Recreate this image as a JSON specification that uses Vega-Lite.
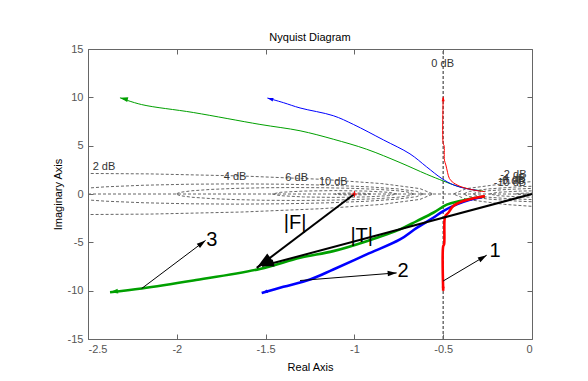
{
"$schema": "https://vega.github.io/schema/vega-lite/v6.json",
"width": 444, "height": 290,
"autosize": {"type": "none"},
"padding": {"left": 88, "top": 49, "right": 56, "bottom": 42},
"title": {"text": "Nyquist Diagram", "fontSize": 11, "fontWeight": "normal", "font": "Liberation Sans", "color": "black", "offset": 0},
"config": {
 "view": {"stroke": null},
 "font": "Liberation Sans",
 "axis": {"domainColor": "#666666", "tickColor": "#666666", "tickSize": -5, "labelColor": "#555555", "labelFontSize": 11, "labelFont": "Liberation Sans", "titleFont": "Liberation Sans", "titleFontSize": 11, "titleFontWeight": "normal", "titleColor": "black", "grid": false, "labelPadding": 9}
},
"resolve": {"axis": {"x": "independent", "y": "independent"}},
"datasets": {
 "grid": [
  {"c":"m2","i":0,"x":-2.7097,"y":2.1524},{"c":"m2","i":1,"x":-2.1526,"y":2.079},{"c":"m2","i":2,"x":-1.6335,"y":1.864},{"c":"m2","i":3,"x":-1.1877,"y":1.522},{"c":"m2","i":4,"x":-0.8457,"y":1.0762},{"c":"m2","i":5,"x":-0.6307,"y":0.5571},{"c":"m2","i":6,"x":-0.5573,"y":0},{"c":"m2","i":7,"x":-0.6307,"y":-0.5571},{"c":"m2","i":8,"x":-0.8457,"y":-1.0762},{"c":"m2","i":9,"x":-1.1877,"y":-1.522},{"c":"m2","i":10,"x":-1.6335,"y":-1.864},{"c":"m2","i":11,"x":-2.1526,"y":-2.079},{"c":"m2","i":12,"x":-2.7097,"y":-2.1524},
  {"c":"n2","i":0,"x":0.1877,"y":1.522},{"c":"n2","i":1,"x":-0.1543,"y":1.0762},{"c":"n2","i":2,"x":-0.3693,"y":0.5571},{"c":"n2","i":3,"x":-0.4427,"y":0},{"c":"n2","i":4,"x":-0.3693,"y":-0.5571},{"c":"n2","i":5,"x":-0.1543,"y":-1.0762},{"c":"n2","i":6,"x":0.1877,"y":-1.522},
  {"c":"m4","i":0,"x":-0.6131,"y":0},{"c":"m4","i":1,"x":-0.6488,"y":0.2713},{"c":"m4","i":2,"x":-0.7536,"y":0.5242},{"c":"m4","i":3,"x":-0.9201,"y":0.7413},{"c":"m4","i":4,"x":-1.1372,"y":0.9078},{"c":"m4","i":5,"x":-1.3901,"y":1.0126},{"c":"m4","i":6,"x":-1.6614,"y":1.0483},{"c":"m4","i":7,"x":-1.9327,"y":1.0126},{"c":"m4","i":8,"x":-2.1856,"y":0.9078},{"c":"m4","i":9,"x":-2.4027,"y":0.7413},{"c":"m4","i":10,"x":-2.5692,"y":0.5242},{"c":"m4","i":11,"x":-2.674,"y":0.2713},{"c":"m4","i":12,"x":-2.7097,"y":0},{"c":"m4","i":13,"x":-2.674,"y":-0.2713},{"c":"m4","i":14,"x":-2.5692,"y":-0.5242},{"c":"m4","i":15,"x":-2.4027,"y":-0.7413},{"c":"m4","i":16,"x":-2.1856,"y":-0.9078},{"c":"m4","i":17,"x":-1.9327,"y":-1.0126},{"c":"m4","i":18,"x":-1.6614,"y":-1.0483},{"c":"m4","i":19,"x":-1.3901,"y":-1.0126},{"c":"m4","i":20,"x":-1.1372,"y":-0.9078},{"c":"m4","i":21,"x":-0.9201,"y":-0.7413},{"c":"m4","i":22,"x":-0.7536,"y":-0.5242},{"c":"m4","i":23,"x":-0.6488,"y":-0.2713},{"c":"m4","i":24,"x":-0.6131,"y":0},
  {"c":"n4","i":0,"x":0.1372,"y":0.9078},{"c":"n4","i":1,"x":-0.0799,"y":0.7413},{"c":"n4","i":2,"x":-0.2464,"y":0.5242},{"c":"n4","i":3,"x":-0.3512,"y":0.2713},{"c":"n4","i":4,"x":-0.3869,"y":0},{"c":"n4","i":5,"x":-0.3512,"y":-0.2713},{"c":"n4","i":6,"x":-0.2464,"y":-0.5242},{"c":"n4","i":7,"x":-0.0799,"y":-0.7413},{"c":"n4","i":8,"x":0.1372,"y":-0.9078},
  {"c":"m6","i":0,"x":-0.6661,"y":0},{"c":"m6","i":1,"x":-0.6889,"y":0.1732},{"c":"m6","i":2,"x":-0.7558,"y":0.3347},{"c":"m6","i":3,"x":-0.8621,"y":0.4733},{"c":"m6","i":4,"x":-1.0007,"y":0.5796},{"c":"m6","i":5,"x":-1.1622,"y":0.6465},{"c":"m6","i":6,"x":-1.3354,"y":0.6693},{"c":"m6","i":7,"x":-1.5086,"y":0.6465},{"c":"m6","i":8,"x":-1.6701,"y":0.5796},{"c":"m6","i":9,"x":-1.8087,"y":0.4733},{"c":"m6","i":10,"x":-1.915,"y":0.3347},{"c":"m6","i":11,"x":-1.9819,"y":0.1732},{"c":"m6","i":12,"x":-2.0047,"y":0},{"c":"m6","i":13,"x":-1.9819,"y":-0.1732},{"c":"m6","i":14,"x":-1.915,"y":-0.3347},{"c":"m6","i":15,"x":-1.8087,"y":-0.4733},{"c":"m6","i":16,"x":-1.6701,"y":-0.5796},{"c":"m6","i":17,"x":-1.5086,"y":-0.6465},{"c":"m6","i":18,"x":-1.3354,"y":-0.6693},{"c":"m6","i":19,"x":-1.1622,"y":-0.6465},{"c":"m6","i":20,"x":-1.0007,"y":-0.5796},{"c":"m6","i":21,"x":-0.8621,"y":-0.4733},{"c":"m6","i":22,"x":-0.7558,"y":-0.3347},{"c":"m6","i":23,"x":-0.6889,"y":-0.1732},{"c":"m6","i":24,"x":-0.6661,"y":0},
  {"c":"n6","i":0,"x":0.1622,"y":0.6465},{"c":"n6","i":1,"x":-0.0007,"y":0.5796},{"c":"n6","i":2,"x":-0.1379,"y":0.4733},{"c":"n6","i":3,"x":-0.2442,"y":0.3347},{"c":"n6","i":4,"x":-0.3111,"y":0.1732},{"c":"n6","i":5,"x":-0.3339,"y":0},{"c":"n6","i":6,"x":-0.3111,"y":-0.1732},{"c":"n6","i":7,"x":-0.2442,"y":-0.3347},{"c":"n6","i":8,"x":-0.1379,"y":-0.4733},{"c":"n6","i":9,"x":-0.0007,"y":-0.5796},{"c":"n6","i":10,"x":0.1622,"y":-0.6465},
  {"c":"m10","i":0,"x":-0.7597,"y":0},{"c":"m10","i":1,"x":-0.8068,"y":0.1757},{"c":"m10","i":2,"x":-0.9354,"y":0.3043},{"c":"m10","i":3,"x":-1.1111,"y":0.3514},{"c":"m10","i":4,"x":-1.2868,"y":0.3043},{"c":"m10","i":5,"x":-1.4154,"y":0.1757},{"c":"m10","i":6,"x":-1.4625,"y":0},{"c":"m10","i":7,"x":-1.4154,"y":-0.1757},{"c":"m10","i":8,"x":-1.2868,"y":-0.3043},{"c":"m10","i":9,"x":-1.1111,"y":-0.3514},{"c":"m10","i":10,"x":-0.9354,"y":-0.3043},{"c":"m10","i":11,"x":-0.8068,"y":-0.1757},{"c":"m10","i":12,"x":-0.7597,"y":0},
  {"c":"n10","i":0,"x":0.1111,"y":0.3514},{"c":"n10","i":1,"x":-0.0646,"y":0.3043},{"c":"n10","i":2,"x":-0.1932,"y":0.1757},{"c":"n10","i":3,"x":-0.2403,"y":0},{"c":"n10","i":4,"x":-0.1932,"y":-0.1757},{"c":"n10","i":5,"x":-0.0646,"y":-0.3043},{"c":"n10","i":6,"x":0.1111,"y":-0.3514},
  {"c":"m20","i":0,"x":-0.9091,"y":0},{"c":"m20","i":1,"x":-0.9226,"y":0.0505},{"c":"m20","i":2,"x":-0.9596,"y":0.0875},{"c":"m20","i":3,"x":-1.0101,"y":0.101},{"c":"m20","i":4,"x":-1.0606,"y":0.0875},{"c":"m20","i":5,"x":-1.0976,"y":0.0505},{"c":"m20","i":6,"x":-1.1111,"y":0},{"c":"m20","i":7,"x":-1.0976,"y":-0.0505},{"c":"m20","i":8,"x":-1.0606,"y":-0.0875},{"c":"m20","i":9,"x":-1.0101,"y":-0.101},{"c":"m20","i":10,"x":-0.9596,"y":-0.0875},{"c":"m20","i":11,"x":-0.9226,"y":-0.0505},{"c":"m20","i":12,"x":-0.9091,"y":0},
  {"c":"n20","i":0,"x":0.0101,"y":0.101},{"c":"n20","i":1,"x":-0.0404,"y":0.0875},{"c":"n20","i":2,"x":-0.0774,"y":0.0505},{"c":"n20","i":3,"x":-0.0909,"y":0},{"c":"n20","i":4,"x":-0.0774,"y":-0.0505},{"c":"n20","i":5,"x":-0.0404,"y":-0.0875},{"c":"n20","i":6,"x":0.0101,"y":-0.101},
  {"c":"zero","i":0,"x":-0.5,"y":-15},{"c":"zero","i":1,"x":-0.5,"y":15},
  {"c":"re","i":0,"x":-2.5,"y":0},{"c":"re","i":1,"x":0,"y":0}
 ],
 "curves": [
  {"curve":"3","branch":"neg","i":0,"x":-2.32,"y":9.95},{"curve":"3","branch":"neg","i":1,"x":-2.198,"y":9.25},{"curve":"3","branch":"neg","i":2,"x":-1.907,"y":8.43},{"curve":"3","branch":"neg","i":3,"x":-1.532,"y":7.2},{"curve":"3","branch":"neg","i":4,"x":-1.306,"y":6.54},{"curve":"3","branch":"neg","i":5,"x":-1.119,"y":5.67},{"curve":"3","branch":"neg","i":6,"x":-0.931,"y":4.63},{"curve":"3","branch":"neg","i":7,"x":-0.743,"y":3.25},{"curve":"3","branch":"neg","i":8,"x":-0.593,"y":2.04},{"curve":"3","branch":"neg","i":9,"x":-0.5,"y":1.35},{"curve":"3","branch":"neg","i":10,"x":-0.424,"y":0.83},{"curve":"3","branch":"neg","i":11,"x":-0.35,"y":0.5},{"curve":"3","branch":"neg","i":12,"x":-0.276,"y":0.31},
  {"curve":"3","branch":"pos","i":0,"x":-2.376,"y":-10.17},{"curve":"3","branch":"pos","i":1,"x":-2.198,"y":-9.78},{"curve":"3","branch":"pos","i":2,"x":-1.907,"y":-8.95},{"curve":"3","branch":"pos","i":3,"x":-1.532,"y":-7.75},{"curve":"3","branch":"pos","i":4,"x":-1.306,"y":-6.6},{"curve":"3","branch":"pos","i":5,"x":-1.119,"y":-5.91},{"curve":"3","branch":"pos","i":6,"x":-0.931,"y":-4.88},{"curve":"3","branch":"pos","i":7,"x":-0.743,"y":-3.66},{"curve":"3","branch":"pos","i":8,"x":-0.649,"y":-2.8},{"curve":"3","branch":"pos","i":9,"x":-0.556,"y":-1.94},{"curve":"3","branch":"pos","i":10,"x":-0.48,"y":-1.1},{"curve":"3","branch":"pos","i":11,"x":-0.405,"y":-0.73},{"curve":"3","branch":"pos","i":12,"x":-0.33,"y":-0.45},{"curve":"3","branch":"pos","i":13,"x":-0.265,"y":-0.25},
  {"curve":"2","branch":"neg","i":0,"x":-1.49,"y":9.93},{"curve":"2","branch":"neg","i":1,"x":-1.4,"y":9.45},{"curve":"2","branch":"neg","i":2,"x":-1.306,"y":8.9},{"curve":"2","branch":"neg","i":3,"x":-1.119,"y":8.1},{"curve":"2","branch":"neg","i":4,"x":-1.006,"y":7.2},{"curve":"2","branch":"neg","i":5,"x":-0.837,"y":5.6},{"curve":"2","branch":"neg","i":6,"x":-0.687,"y":4.15},{"curve":"2","branch":"neg","i":7,"x":-0.593,"y":2.8},{"curve":"2","branch":"neg","i":8,"x":-0.508,"y":1.6},{"curve":"2","branch":"neg","i":9,"x":-0.443,"y":0.95},{"curve":"2","branch":"neg","i":10,"x":-0.38,"y":0.6},{"curve":"2","branch":"neg","i":11,"x":-0.3,"y":0.35},
  {"curve":"2","branch":"pos","i":0,"x":-1.522,"y":-10.24},{"curve":"2","branch":"pos","i":1,"x":-1.4,"y":-9.6},{"curve":"2","branch":"pos","i":2,"x":-1.25,"y":-8.85},{"curve":"2","branch":"pos","i":3,"x":-1.119,"y":-7.81},{"curve":"2","branch":"pos","i":4,"x":-0.931,"y":-6.25},{"curve":"2","branch":"pos","i":5,"x":-0.743,"y":-4.7},{"curve":"2","branch":"pos","i":6,"x":-0.649,"y":-3.5},{"curve":"2","branch":"pos","i":7,"x":-0.556,"y":-2.46},{"curve":"2","branch":"pos","i":8,"x":-0.5,"y":-1.76},{"curve":"2","branch":"pos","i":9,"x":-0.424,"y":-1.07},{"curve":"2","branch":"pos","i":10,"x":-0.35,"y":-0.6},{"curve":"2","branch":"pos","i":11,"x":-0.28,"y":-0.3},
  {"curve":"1","branch":"neg","i":0,"x":-0.5,"y":10},{"curve":"1","branch":"neg","i":1,"x":-0.5,"y":5.2},{"curve":"1","branch":"neg","i":2,"x":-0.495,"y":5.0},{"curve":"1","branch":"neg","i":3,"x":-0.493,"y":3.5},{"curve":"1","branch":"neg","i":4,"x":-0.485,"y":3.0},{"curve":"1","branch":"neg","i":5,"x":-0.475,"y":2.2},{"curve":"1","branch":"neg","i":6,"x":-0.465,"y":1.6},{"curve":"1","branch":"neg","i":7,"x":-0.443,"y":1.17},{"curve":"1","branch":"neg","i":8,"x":-0.396,"y":0.73},{"curve":"1","branch":"neg","i":9,"x":-0.32,"y":0.38},{"curve":"1","branch":"neg","i":10,"x":-0.265,"y":0.24},
  {"curve":"1","branch":"pos","i":0,"x":-0.5,"y":-10},{"curve":"1","branch":"pos","i":1,"x":-0.5,"y":-5.4},{"curve":"1","branch":"pos","i":2,"x":-0.495,"y":-5.2},{"curve":"1","branch":"pos","i":3,"x":-0.492,"y":-2.6},{"curve":"1","branch":"pos","i":4,"x":-0.485,"y":-2.2},{"curve":"1","branch":"pos","i":5,"x":-0.471,"y":-1.94},{"curve":"1","branch":"pos","i":6,"x":-0.443,"y":-1.24},{"curve":"1","branch":"pos","i":7,"x":-0.387,"y":-0.73},{"curve":"1","branch":"pos","i":8,"x":-0.33,"y":-0.45},{"curve":"1","branch":"pos","i":9,"x":-0.265,"y":-0.22}
 ],
 "ann": [
  {"a":"T","i":0,"x":0,"y":0},{"a":"T","i":1,"x":-1.52,"y":-7.45},
  {"a":"F","i":0,"x":-1,"y":0},{"a":"F","i":1,"x":-1.55,"y":-7.64},
  {"a":"a3","i":0,"x":-2.198,"y":-9.78},{"a":"a3","i":1,"x":-1.838,"y":-4.8},
  {"a":"a2","i":0,"x":-1.306,"y":-8.95},{"a":"a2","i":1,"x":-0.762,"y":-8.16},
  {"a":"a1","i":0,"x":-0.5,"y":-9.0},{"a":"a1","i":1,"x":-0.255,"y":-6.33}
 ],
 "heads": [
  {"h":"F","x":-1.55,"y":-7.64},{"h":"T","x":-1.52,"y":-7.45},{"h":"a3","x":-1.838,"y":-4.8},{"h":"a2","x":-0.762,"y":-8.16},{"h":"a1","x":-0.255,"y":-6.33},
  {"h":"g_up","x":-2.32,"y":9.95},{"h":"b_up","x":-1.49,"y":9.93},{"h":"r_up","x":-0.5,"y":10.1},
  {"h":"g_lo","x":-2.376,"y":-10.17},{"h":"b_lo","x":-1.522,"y":-10.24},{"h":"r_lo","x":-0.5,"y":-10.1},
  {"h":"m1","x":-1,"y":0}
 ],
 "labels": [
  {"t":"1","x":-0.208,"y":-5.91},{"t":"2","x":-0.726,"y":-7.99},{"t":"3","x":-1.803,"y":-4.77},{"t":"|F|","x":-1.334,"y":-3.0},{"t":"|T|","x":-0.959,"y":-4.36}
 ],
 "gridlabels": [
  {"t":"0 dB","x":-0.503,"y":13.45},{"t":"2 dB","x":-2.41,"y":2.8},{"t":"4 dB","x":-1.672,"y":1.76},{"t":"6 dB","x":-1.325,"y":1.63},{"t":"10 dB","x":-1.119,"y":1.2},
  {"t":"-2 dB","x":-0.105,"y":1.94},{"t":"-4 dB","x":-0.11,"y":1.6},{"t":"-6 dB","x":-0.115,"y":1.35},{"t":"-10 dB","x":-0.124,"y":1.11}
 ]
},
"layer": [
 {"data": {"name": "grid"},
  "mark": {"type": "line", "clip": true, "color": "#666666", "strokeWidth": 1, "strokeDash": [3, 2]},
  "encoding": {
   "x": {"field": "x", "type": "quantitative", "scale": {"domain": [-2.5, 0], "nice": false, "zero": false},
         "axis": {"orient": "bottom", "values": [-2.5, -2, -1.5, -1, -0.5, 0], "labelExpr": "'' + datum.value", "title": "Real Axis", "titlePadding": 7}},
   "y": {"field": "y", "type": "quantitative", "scale": {"domain": [-15, 15], "nice": false, "zero": false},
         "axis": {"orient": "left", "values": [-15, -10, -5, 0, 5, 10, 15], "labelExpr": "'' + datum.value", "title": "Imaginary Axis", "titlePadding": 4, "labelPadding": 10}},
   "detail": {"field": "c"},
   "order": {"field": "i", "type": "quantitative"}
  }},
 {"data": {"name": "grid"},
  "transform": [{"filter": "datum.c == 'zero'"}],
  "mark": {"type": "line", "clip": true, "color": "#666666", "strokeWidth": 1, "strokeDash": [3, 2]},
  "encoding": {
   "x": {"field": "x", "type": "quantitative", "axis": {"orient": "top", "values": [-2.5, -2, -1.5, -1, -0.5, 0], "labels": false, "title": null}},
   "y": {"field": "y", "type": "quantitative", "axis": {"orient": "right", "values": [-15, -10, -5, 0, 5, 10, 15], "labels": false, "title": null}},
   "order": {"field": "i", "type": "quantitative"}
  }},
 {"data": {"name": "gridlabels"},
  "mark": {"type": "text", "fontSize": 11, "color": "#333333", "align": "center", "baseline": "middle"},
  "encoding": {"x": {"field": "x", "type": "quantitative", "axis": null}, "y": {"field": "y", "type": "quantitative", "axis": null}, "text": {"field": "t"}}},
 {"data": {"name": "curves"},
  "transform": [{"filter": "datum.branch == 'neg'"}],
  "mark": {"type": "line", "clip": true, "strokeWidth": 1, "interpolate": "catmull-rom"},
  "encoding": {
   "x": {"field": "x", "type": "quantitative", "axis": null}, "y": {"field": "y", "type": "quantitative", "axis": null},
   "color": {"field": "curve", "type": "nominal", "scale": {"domain": ["1", "2", "3"], "range": ["#ff0000", "#0000ff", "#00a000"]}, "legend": null},
   "order": {"field": "i", "type": "quantitative"}}},
 {"data": {"name": "curves"},
  "transform": [{"filter": "datum.branch == 'pos'"}],
  "mark": {"type": "line", "clip": true, "strokeWidth": 2.6, "interpolate": "catmull-rom"},
  "encoding": {
   "x": {"field": "x", "type": "quantitative", "axis": null}, "y": {"field": "y", "type": "quantitative", "axis": null},
   "color": {"field": "curve", "type": "nominal", "legend": null},
   "order": {"field": "i", "type": "quantitative"}}},
 {"data": {"name": "ann"},
  "transform": [{"filter": "datum.a == 'T' || datum.a == 'F'"}],
  "mark": {"type": "line", "color": "black", "strokeWidth": 2},
  "encoding": {"x": {"field": "x", "type": "quantitative", "axis": null}, "y": {"field": "y", "type": "quantitative", "axis": null}, "detail": {"field": "a"}, "order": {"field": "i", "type": "quantitative"}}},
 {"data": {"name": "ann"},
  "transform": [{"filter": "datum.a != 'T' && datum.a != 'F'"}],
  "mark": {"type": "line", "color": "black", "strokeWidth": 1},
  "encoding": {"x": {"field": "x", "type": "quantitative", "axis": null}, "y": {"field": "y", "type": "quantitative", "axis": null}, "detail": {"field": "a"}, "order": {"field": "i", "type": "quantitative"}}},
 {"data": {"name": "heads"}, "transform": [{"filter": "datum.h == 'F'"}],
  "mark": {"type": "point", "shape": "M0,0L-0.6,2L0.6,2Z", "filled": true, "opacity": 1, "color": "black", "angle": 233, "size": 289},
  "encoding": {"x": {"field": "x", "type": "quantitative", "axis": null}, "y": {"field": "y", "type": "quantitative", "axis": null}}},
 {"data": {"name": "heads"}, "transform": [{"filter": "datum.h == 'T'"}],
  "mark": {"type": "point", "shape": "M0,0L-0.6,2L0.6,2Z", "filled": true, "opacity": 1, "color": "black", "angle": 255, "size": 144},
  "encoding": {"x": {"field": "x", "type": "quantitative", "axis": null}, "y": {"field": "y", "type": "quantitative", "axis": null}}},
 {"data": {"name": "heads"}, "transform": [{"filter": "datum.h == 'a3'"}],
  "mark": {"type": "point", "shape": "M0,0L-0.6,2L0.6,2Z", "filled": true, "opacity": 1, "color": "black", "angle": 53, "size": 81},
  "encoding": {"x": {"field": "x", "type": "quantitative", "axis": null}, "y": {"field": "y", "type": "quantitative", "axis": null}}},
 {"data": {"name": "heads"}, "transform": [{"filter": "datum.h == 'a2'"}],
  "mark": {"type": "point", "shape": "M0,0L-0.6,2L0.6,2Z", "filled": true, "opacity": 1, "color": "black", "angle": 86, "size": 81},
  "encoding": {"x": {"field": "x", "type": "quantitative", "axis": null}, "y": {"field": "y", "type": "quantitative", "axis": null}}},
 {"data": {"name": "heads"}, "transform": [{"filter": "datum.h == 'a1'"}],
  "mark": {"type": "point", "shape": "M0,0L-0.6,2L0.6,2Z", "filled": true, "opacity": 1, "color": "black", "angle": 59, "size": 81},
  "encoding": {"x": {"field": "x", "type": "quantitative", "axis": null}, "y": {"field": "y", "type": "quantitative", "axis": null}}},
 {"data": {"name": "heads"}, "transform": [{"filter": "datum.h == 'g_up'"}],
  "mark": {"type": "point", "shape": "M0,0L-0.6,2L0.6,2Z", "filled": true, "opacity": 1, "color": "#00a000", "angle": 283, "size": 64},
  "encoding": {"x": {"field": "x", "type": "quantitative", "axis": null}, "y": {"field": "y", "type": "quantitative", "axis": null}}},
 {"data": {"name": "heads"}, "transform": [{"filter": "datum.h == 'b_up'"}],
  "mark": {"type": "point", "shape": "M0,0L-0.6,2L0.6,2Z", "filled": true, "opacity": 1, "color": "#0000ff", "angle": 286, "size": 36},
  "encoding": {"x": {"field": "x", "type": "quantitative", "axis": null}, "y": {"field": "y", "type": "quantitative", "axis": null}}},
 {"data": {"name": "heads"}, "transform": [{"filter": "datum.h == 'r_up'"}],
  "mark": {"type": "point", "shape": "M0,0L-0.6,2L0.6,2Z", "filled": true, "opacity": 1, "color": "#ff0000", "angle": 0, "size": 25},
  "encoding": {"x": {"field": "x", "type": "quantitative", "axis": null}, "y": {"field": "y", "type": "quantitative", "axis": null}}},
 {"data": {"name": "heads"}, "transform": [{"filter": "datum.h == 'g_lo'"}],
  "mark": {"type": "point", "shape": "M0,0L-0.6,2L0.6,2Z", "filled": true, "opacity": 1, "color": "#00a000", "angle": 261, "size": 64},
  "encoding": {"x": {"field": "x", "type": "quantitative", "axis": null}, "y": {"field": "y", "type": "quantitative", "axis": null}}},
 {"data": {"name": "heads"}, "transform": [{"filter": "datum.h == 'b_lo'"}],
  "mark": {"type": "point", "shape": "M0,0L-0.6,2L0.6,2Z", "filled": true, "opacity": 1, "color": "#0000ff", "angle": 254, "size": 36},
  "encoding": {"x": {"field": "x", "type": "quantitative", "axis": null}, "y": {"field": "y", "type": "quantitative", "axis": null}}},
 {"data": {"name": "heads"}, "transform": [{"filter": "datum.h == 'r_lo'"}],
  "mark": {"type": "point", "shape": "M0,0L-0.6,2L0.6,2Z", "filled": true, "opacity": 1, "color": "#ff0000", "angle": 180, "size": 25},
  "encoding": {"x": {"field": "x", "type": "quantitative", "axis": null}, "y": {"field": "y", "type": "quantitative", "axis": null}}},
 {"data": {"name": "heads"}, "transform": [{"filter": "datum.h == 'm1'"}],
  "mark": {"type": "point", "shape": "M-1,0L1,0M0,-1L0,1", "filled": false, "opacity": 1, "color": "#ff0000", "strokeWidth": 1, "size": 36},
  "encoding": {"x": {"field": "x", "type": "quantitative", "axis": null}, "y": {"field": "y", "type": "quantitative", "axis": null}}},
 {"data": {"name": "labels"},
  "mark": {"type": "text", "fontSize": 20, "color": "black", "align": "center", "baseline": "middle"},
  "encoding": {"x": {"field": "x", "type": "quantitative", "axis": null}, "y": {"field": "y", "type": "quantitative", "axis": null}, "text": {"field": "t"}}}
]
}
